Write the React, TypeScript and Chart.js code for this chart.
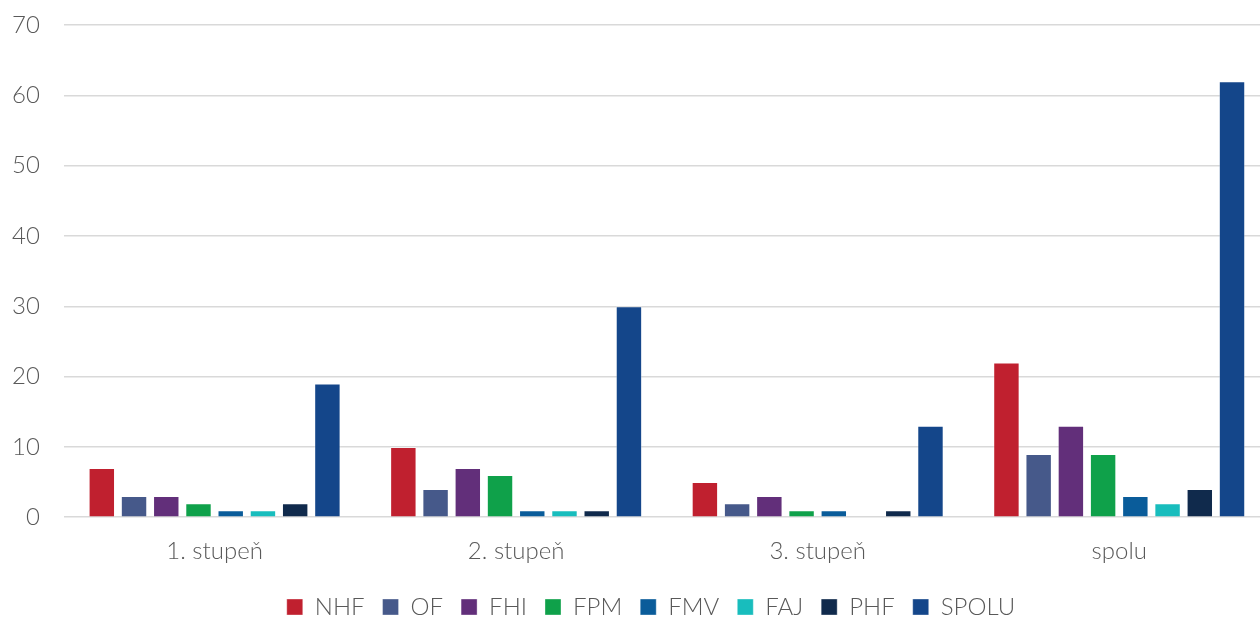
import React, { useEffect, useRef } from "react";
import { Chart, registerables } from "chart.js";

Chart.register(...registerables);

const categories = ["1. stupeň", "2. stupeň", "3. stupeň", "spolu"];
const seriesNames = ["NHF", "OF", "FHI", "FPM", "FMV", "FAJ", "PHF", "SPOLU"];
const seriesColors = ["#C0202F", "#46598A", "#622F7A", "#0FA14A", "#0A5C9A", "#18BDBD", "#102A4C", "#14468A"];
const NHF = [7, 10, 5, 22];
const OF = [3, 4, 2, 9];
const FHI = [3, 7, 3, 13];
const FPM = [2, 6, 1, 9];
const FMV = [1, 1, 1, 3];
const FAJ = [1, 1, 0, 2];
const PHF = [2, 1, 1, 4];
const SPOLU = [19, 30, 13, 62];
const seriesValues = [NHF, OF, FHI, FPM, FMV, FAJ, PHF, SPOLU];
const yTicks = [0, 10, 20, 30, 40, 50, 60, 70];

const FONT = "Lato, 'Noto Sans', sans-serif";
const EXTEND_RIGHT = 10;

const layoutTweak = {
  id: "layoutTweak",
  afterLayout(chart: any) {
    const lg = chart.legend;
    if (lg) {
      lg.left += 27;
      lg.right += 27;
    }
    const x = chart.scales.x;
    chart.chartArea.right += EXTEND_RIGHT;
    chart.chartArea.width = chart.chartArea.right - chart.chartArea.left;
    x.right += EXTEND_RIGHT;
    x.width = x.right - x.left;
    x.configure();
    const y = chart.scales.y;
    y.configure();
  },
};

export default function App() {
  const ref = useRef<HTMLCanvasElement | null>(null);
  useEffect(() => {
    document.body.style.margin = "0";
    const chart = new Chart(ref.current!, {
      type: "bar",
      data: {
        labels: categories,
        datasets: seriesNames.map((n, i) => ({
          label: n,
          data: seriesValues[i],
          backgroundColor: seriesColors[i],
          borderColor: "rgba(255,255,255,0.35)",
          borderWidth: 1,
          barPercentage: 0.82,
          categoryPercentage: 0.855,
        })),
      },
      plugins: [layoutTweak],
      options: {
        animation: false,
        responsive: false,
        maintainAspectRatio: false,
        layout: { padding: { top: 25, right: 0, left: -12, bottom: -12 } },
        plugins: {
          tooltip: { enabled: false },
          legend: {
            position: "bottom",
            labels: {
              boxWidth: 16,
              boxHeight: 16,
              padding: 18,
              color: "#595959",
              font: { family: FONT, size: 24, weight: 300 },
            },
          },
        },
        scales: {
          x: {
            grid: { display: false },
            border: { display: false },
            ticks: {
              color: "#595959",
              font: { family: FONT, size: 24, weight: 300, lineHeight: 1.325 },
              padding: 10,
            },
          },
          y: {
            min: 0,
            max: 70,
            afterBuildTicks: (axis: any) => {
              axis.ticks = yTicks.map((v) => ({ value: v }));
            },
            afterFit: (axis: any) => {
              axis.paddingTop = 0;
            },
            grid: { color: "#D9D9D9", lineWidth: 1.5, drawTicks: false },
            border: { display: false },
            ticks: { color: "#595959", font: { family: FONT, size: 24, weight: 300 }, padding: 24 },
          },
        },
      },
    });
    return () => chart.destroy();
  }, []);
  return <canvas ref={ref} width={1260} height={617} style={{ display: "block" }} />;
}
